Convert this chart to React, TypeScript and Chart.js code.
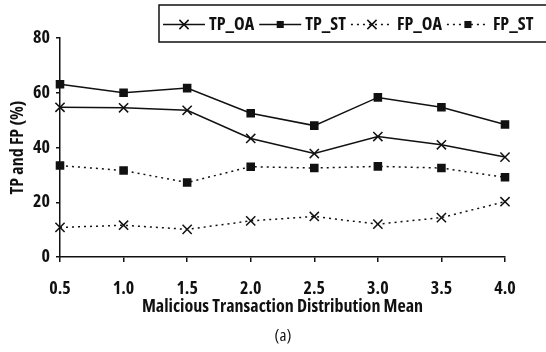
import React, { useEffect, useRef } from "react";
import { Chart, registerables } from "chart.js";

Chart.register(...registerables);

const categories = ["0.5", "1.0", "1.5", "2.0", "2.5", "3.0", "3.5", "4.0"];
const tpOA = [54.7, 54.5, 53.6, 43.3, 37.8, 44.0, 41.0, 36.5];
const tpST = [63.1, 60.0, 61.7, 52.5, 48.0, 58.3, 54.7, 48.4];
const fpOA = [10.8, 11.6, 10.1, 13.2, 14.8, 12.0, 14.4, 20.2];
const fpST = [33.4, 31.6, 27.2, 33.0, 32.5, 33.1, 32.5, 29.1];
const yTicks = [0, 20, 40, 60, 80];
const seriesNames = ["TP_OA", "TP_ST", "FP_OA", "FP_ST"];

const FONT = "'Open Sans', Roboto, 'Liberation Sans', sans-serif";
const WEIGHT = "bold condensed";
const INK = "#111111";
const DOT = [2, 4];

const styles = [
  { dash: [] as number[], point: "crossRot", radius: 6.5 },
  { dash: [] as number[], point: "rect", radius: 5 },
  { dash: DOT, point: "crossRot", radius: 6.5 },
  { dash: DOT, point: "rect", radius: 5 },
];

function drawMarker(ctx: CanvasRenderingContext2D, kind: string, x: number, y: number, r: number) {
  ctx.save();
  ctx.setLineDash([]);
  ctx.strokeStyle = INK;
  ctx.fillStyle = INK;
  ctx.lineWidth = 1.5;
  const s = r * Math.SQRT1_2;
  if (kind === "rect") {
    ctx.fillRect(x - s, y - s, 2 * s, 2 * s);
  } else {
    ctx.beginPath();
    ctx.moveTo(x - s, y - s);
    ctx.lineTo(x + s, y + s);
    ctx.moveTo(x + s, y - s);
    ctx.lineTo(x - s, y + s);
    ctx.stroke();
  }
  ctx.restore();
}

const extrasPlugin = {
  id: "extras",
  afterDraw(chart: any) {
    const ctx: CanvasRenderingContext2D = chart.ctx;
    ctx.save();
    const bx = 159, by = 5, bw = 400, bh = 37;
    ctx.strokeStyle = INK;
    ctx.lineWidth = 1.5;
    ctx.strokeRect(bx, by, bw, bh);
    ctx.font = `${WEIGHT} 18px ${FONT}`;
    ctx.fillStyle = INK;
    ctx.textBaseline = "middle";
    const cy = by + bh / 2 + 1;
    let x = bx + 4;
    seriesNames.forEach((name, i) => {
      const st = styles[i];
      const sampleW = 42;
      ctx.save();
      ctx.setLineDash(st.dash);
      ctx.strokeStyle = INK;
      ctx.lineWidth = 1.5;
      ctx.beginPath();
      ctx.moveTo(x, cy);
      ctx.lineTo(x + sampleW, cy);
      ctx.stroke();
      ctx.restore();
      drawMarker(ctx, st.point, x + sampleW / 2, cy, st.radius);
      x += sampleW + 4;
      ctx.fillText(name, x, cy);
      x += ctx.measureText(name).width + 5;
    });
    ctx.font = `condensed 17px ${FONT}`;
    ctx.textAlign = "center";
    ctx.fillText("(a)", 283, 336);
    ctx.restore();
  },
};

export default function App() {
  const ref = useRef<HTMLCanvasElement | null>(null);
  useEffect(() => {
    if (!ref.current) return;
    const data = [tpOA, tpST, fpOA, fpST];
    const chart = new Chart(ref.current, {
      type: "line",
      data: {
        labels: categories,
        datasets: data.map((d, i) => ({
          label: seriesNames[i],
          data: d,
          borderColor: INK,
          backgroundColor: INK,
          borderWidth: 1.5,
          borderDash: styles[i].dash,
          pointStyle: styles[i].point as any,
          pointRadius: styles[i].radius,
          pointBorderWidth: 1.5,
          pointBorderColor: INK,
          pointBackgroundColor: INK,
          tension: 0,
          fill: false,
        })),
      },
      options: {
        animation: false,
        responsive: false,
        devicePixelRatio: 1,
        layout: { padding: { top: 38, right: 41, bottom: 34, left: 0 } },
        plugins: { legend: { display: false }, tooltip: { enabled: false }, title: { display: false } },
        scales: {
          x: {
            type: "category",
            offset: false,
            grid: { display: true, drawOnChartArea: false, drawTicks: true, tickLength: 5, color: INK, lineWidth: 1.5 },
            border: { display: true, color: INK, width: 1.5 },
            ticks: { color: INK, font: { family: FONT, size: 18, weight: WEIGHT as any }, padding: 16, maxRotation: 0 },
            title: { display: true, text: "Malicious Transaction Distribution Mean", color: INK, font: { family: FONT, size: 18, weight: WEIGHT as any }, padding: { top: 0, bottom: 0 } },
            afterFit: (s: any) => { s.height = 61; },
          },
          y: {
            min: 0,
            max: 80,
            afterBuildTicks: (s: any) => { s.ticks = yTicks.map((v) => ({ value: v })); },
            grid: { display: true, drawOnChartArea: false, drawTicks: true, tickLength: 4, color: INK, lineWidth: 1.5 },
            border: { display: true, color: INK, width: 1.5 },
            ticks: { color: INK, font: { family: FONT, size: 18, weight: WEIGHT as any }, padding: 6 },
            title: { display: true, text: "TP and FP (%)", color: INK, font: { family: FONT, size: 18, weight: WEIGHT as any }, padding: { top: 7, bottom: 7 } },
            afterFit: (s: any) => { s.width = 60; },
          },
        },
      },
      plugins: [extrasPlugin],
    });
    return () => chart.destroy();
  }, []);
  return (
    <div style={{ position: "fixed", left: 0, top: 0, width: 546, height: 352, background: "#fff" }}>
      <canvas ref={ref} width={546} height={352} style={{ width: 546, height: 352 }} />
    </div>
  );
}
